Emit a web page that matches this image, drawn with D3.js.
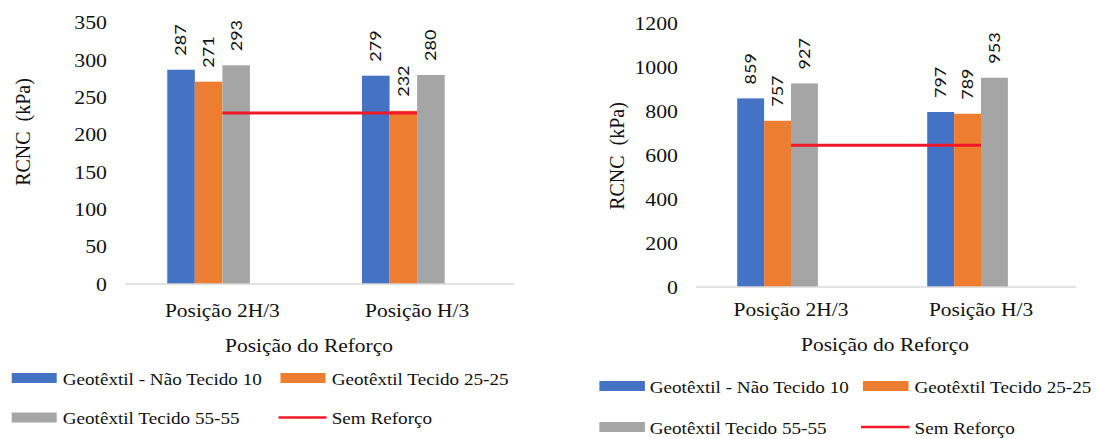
<!DOCTYPE html>
<html>
<head>
<meta charset="utf-8">
<script src="https://cdn.jsdelivr.net/npm/d3@7"></script>
<style>
  html, body { margin: 0; padding: 0; background: #fff; }
  svg { display: block; }
</style>
</head>
<body>
<svg id="chart" width="1097" height="439"></svg>
<script>
// Categories and series shared by both panels
const categories = ["Posição 2H/3", "Posição H/3"];
const seriesNames = ["Geotêxtil - Não Tecido 10", "Geotêxtil Tecido 25-25", "Geotêxtil Tecido 55-55"];
const referenceName = "Sem Reforço";
const seriesColors = ["#4472C4", "#ED7D31", "#A5A5A5"];
const referenceColor = "#F0182A";

// Left panel: RCNC (kPa) per series, one value per category
const leftSeries1 = [287, 279];
const leftSeries2 = [271, 232];
const leftSeries3 = [293, 280];
const leftReference = [229, 229];
const leftTicks = [0, 50, 100, 150, 200, 250, 300, 350];

// Right panel
const rightSeries1 = [859, 797];
const rightSeries2 = [757, 789];
const rightSeries3 = [927, 953];
const rightReference = [645, 645];
const rightTicks = [0, 200, 400, 600, 800, 1000, 1200];

const yTitle = "RCNC\u00a0\u00a0(kPa)";
const xTitle = "Posição do Reforço";

const svg = d3.select("#chart");
const SERIF = "'Liberation Serif', 'Times New Roman', serif";
const SANS = "Lato, 'Open Sans', sans-serif";
const STRETCH = 1.1;

// Text helper: places a label with its own rotation and a horizontal stretch
function label(parent, x, y, str, o) {
  o = o || {};
  const sx = o.sx == null ? STRETCH : o.sx;
  const g = parent.append("g")
    .attr("transform", `translate(${x},${y}) scale(${sx},1) rotate(${o.rotate || 0})`);
  return g.append("text")
    .attr("text-anchor", o.anchor || "middle")
    .attr("dominant-baseline", "central")
    .attr("font-family", o.family || SERIF)
    .attr("font-size", o.size || 19.8)
    .attr("fill", o.fill || "#111")
    .text(str);
}

function drawPanel(p) {
  const g = svg.append("g");
  const series = [p.s1, p.s2, p.s3];

  const x = d3.scaleBand().domain(categories).range([p.x0, p.x1]).padding(0);
  const y = d3.scaleLinear().domain([0, p.ticks[p.ticks.length - 1]]).range([p.yBottom, p.yTop]);

  // clusters hold four slots; the fourth stays empty
  const groupW = x.bandwidth() * 0.566;
  const slot = d3.scaleBand().domain([0, 1, 2, 3]).range([0, groupW]).padding(0);
  const groupStart = c => x(c) + (x.bandwidth() - groupW) / 2;

  // y tick labels
  p.ticks.forEach(t => label(g, p.tickX, y(t), String(t), { anchor: "end", size: 19.8 }));

  // bars
  series.forEach((vals, si) => {
    g.append("g").selectAll("rect")
      .data(categories.map((c, ci) => ({ c, v: vals[ci] })))
      .join("rect")
      .attr("x", d => groupStart(d.c) + slot(si))
      .attr("width", slot.bandwidth())
      .attr("y", d => y(d.v))
      .attr("height", d => y(0) - y(d.v))
      .attr("fill", seriesColors[si]);
  });

  // category axis line
  g.append("line")
    .attr("x1", p.x0).attr("x2", p.x1)
    .attr("y1", y(0)).attr("y2", y(0))
    .attr("stroke", "#d9d9d9").attr("stroke-width", 1.5);

  // reference line joining the category centres
  const line = d3.line()
    .x((d, i) => x(categories[i]) + x.bandwidth() / 2)
    .y(d => y(d));
  g.append("path")
    .datum(p.ref)
    .attr("d", line)
    .attr("fill", "none")
    .attr("stroke", referenceColor)
    .attr("stroke-width", 3);

  // value labels above each bar
  series.forEach((vals, si) => {
    categories.forEach((c, ci) => {
      const cx = groupStart(c) + slot(si) + slot.bandwidth() / 2;
      label(g, cx, y(vals[ci]) - 14, String(vals[ci]),
        { rotate: -90, anchor: "start", family: SANS, size: 18, sx: 0.84, fill: "#111" });
    });
  });

  // category labels
  categories.forEach(c => label(g, x(c) + x.bandwidth() / 2, p.catY, c, { size: 19.5 }));

  // axis titles
  label(g, p.xTitleX, p.xTitleY, xTitle, { size: 19.5 });
  label(g, p.yTitleX, p.yTitleY, yTitle, { rotate: -90, size: 20 });

  // legend
  const entries = [
    { name: seriesNames[0], type: "rect", color: seriesColors[0], row: 0, col: 0 },
    { name: seriesNames[1], type: "rect", color: seriesColors[1], row: 0, col: 1 },
    { name: seriesNames[2], type: "rect", color: seriesColors[2], row: 1, col: 0 },
    { name: referenceName, type: "line", color: referenceColor, row: 1, col: 1 }
  ];
  entries.forEach(e => {
    const ly = p.legendRows[e.row];
    const col = p.legendCols[e.col];
    if (e.type === "rect") {
      g.append("rect")
        .attr("x", col.sw).attr("y", ly - 5)
        .attr("width", p.swatchW).attr("height", 10)
        .attr("fill", e.color);
    } else {
      g.append("line")
        .attr("x1", col.sw - 2).attr("x2", col.sw + p.swatchW + 1)
        .attr("y1", ly).attr("y2", ly)
        .attr("stroke", e.color).attr("stroke-width", 2.5);
    }
    label(g, col.tx, ly + 1, e.name, { anchor: "start", size: 17.4 });
  });
}

drawPanel({
  s1: leftSeries1, s2: leftSeries2, s3: leftSeries3, ref: leftReference, ticks: leftTicks,
  x0: 125, x1: 514.5, yBottom: 284, yTop: 22.7,
  tickX: 107, catY: 310, xTitleX: 309, xTitleY: 345, yTitleX: 23, yTitleY: 132,
  legendRows: [378, 417.5],
  legendCols: [{ sw: 11.7, tx: 62.7 }, { sw: 280.5, tx: 331.7 }],
  swatchW: 45
});

drawPanel({
  s1: rightSeries1, s2: rightSeries2, s3: rightSeries3, ref: rightReference, ticks: rightTicks,
  x0: 696, x1: 1076, yBottom: 287, yTop: 23.5,
  tickX: 678, catY: 309, xTitleX: 885, xTitleY: 344, yTitleX: 617, yTitleY: 156,
  legendRows: [386, 427],
  legendCols: [{ sw: 599.4, tx: 649.7 }, { sw: 863, tx: 914.5 }],
  swatchW: 45.5
});
</script>
</body>
</html>
